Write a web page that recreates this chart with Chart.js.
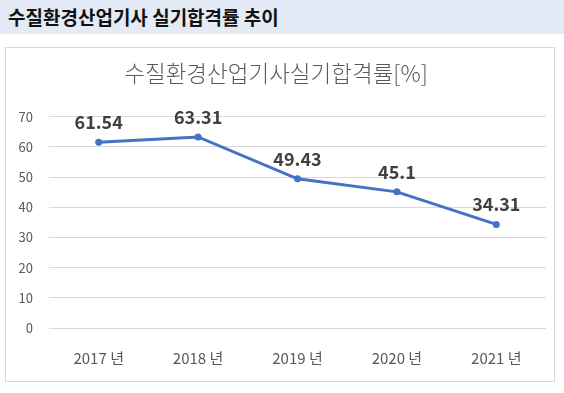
<!DOCTYPE html>
<html>
<head>
<meta charset="utf-8">
<script src="https://cdn.jsdelivr.net/npm/chart.js@4.4.1/dist/chart.umd.min.js"></script>
<style>
    body { margin: 0; background: #ffffff; font-family: "Noto Sans CJK KR", sans-serif; }
    #header {
        position: absolute; left: 0; top: 0; width: 564px; height: 34px;
        background: #e4eaf6; color: #111111;
        font: bold 19px "Noto Sans CJK KR", sans-serif;
        line-height: 34px; padding-left: 8px; box-sizing: border-box;
    }
    #chart-box {
        position: absolute; left: 5px; top: 47px; width: 548px; height: 333px;
        border: 1px solid #d9d9d9;
    }
</style>
</head>
<body>
<div id="header">수질환경산업기사 실기합격률 추이</div>
<div id="chart-box"><canvas id="my-chart"></canvas></div>
<script>
const chartCanvas = document.getElementById('my-chart');

// chart data
const years = ['2017 년', '2018 년', '2019 년', '2020 년', '2021 년'];
const passRates = [61.54, 63.31, 49.43, 45.1, 34.31];
const chartTitle = '수질환경산업기사실기합격률[%]';

const tickFont = { family: 'Noto Sans CJK KR', size: 13 };
const gray = '#595959';

// draws the value above each point
const valueLabels = {
    id: 'valueLabels',
    afterDatasetsDraw(chart) {
        const ctx = chart.ctx;
        const meta = chart.getDatasetMeta(0);
        ctx.save();
        ctx.font = 'bold 18px "Noto Sans CJK KR"';
        ctx.fillStyle = '#404040';
        ctx.textAlign = 'center';
        ctx.textBaseline = 'middle';
        meta.data.forEach((pt, i) => {
            ctx.fillText(String(passRates[i]), pt.x, pt.y - 20);
        });
        ctx.restore();
    }
};

const viewChart = new Chart(chartCanvas.getContext('2d'), {
    type: 'line',
    data: {
        labels: years,
        datasets: [{
            label: '합격률',
            data: passRates,
            borderColor: '#4472c4',
            backgroundColor: '#4472c4',
            borderWidth: 3,
            pointRadius: 3.5,
            pointBackgroundColor: '#4472c4',
            pointBorderWidth: 0,
            tension: 0,
            fill: false
        }]
    },
    options: {
        responsive: true,
        maintainAspectRatio: false,
        animation: false,
        layout: {
            padding: { top: 0, left: 0, right: 8, bottom: 14 }
        },
        scales: {
            x: {
                offset: true,
                grid: { display: false, drawTicks: false },
                border: { display: false },
                ticks: {
                    font: { family: 'Noto Sans CJK KR', size: 15 },
                    color: gray,
                    padding: 21,
                    maxRotation: 0
                },
                afterFit(scale) {
                    scale.height = 39;
                }
            },
            y: {
                min: 0,
                max: 70,
                grid: { color: '#d9d9d9', drawTicks: false },
                border: { display: false },
                ticks: {
                    stepSize: 10,
                    font: tickFont,
                    color: gray,
                    padding: 16
                },
                afterFit(scale) {
                    scale.width = 43;
                }
            }
        },
        plugins: {
            title: {
                display: true,
                text: chartTitle,
                color: gray,
                font: { family: 'Noto Sans CJK KR', size: 22.5, weight: 300 },
                padding: { top: 11.5, bottom: 30.2 }
            },
            legend: { display: false },
            tooltip: { mode: 'index', intersect: false }
        }
    },
    plugins: [valueLabels]
});
</script>
</body>
</html>
